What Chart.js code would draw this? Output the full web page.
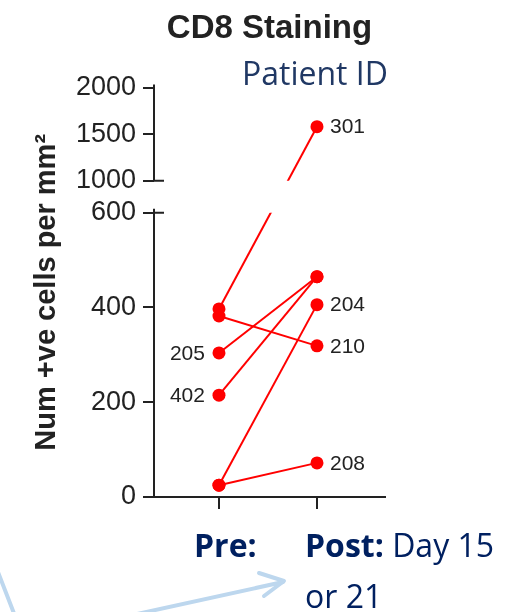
<!DOCTYPE html>
<html>
<head>
<meta charset="utf-8">
<title>CD8 Staining</title>
<script src="https://cdn.jsdelivr.net/npm/chart.js@4.4.1/dist/chart.umd.min.js"></script>
<style>
  html, body { margin: 0; padding: 0; background: #fff; }
  #wrap { position: relative; width: 518px; height: 612px; overflow: hidden; }
  #notes { position: absolute; left: 0; top: 0; }
</style>
</head>
<body>
<div id="wrap">
  <canvas id="myChart" width="518" height="612"></canvas>
  <svg id="notes" width="518" height="612" viewBox="0 0 518 612">
    <g stroke="#bdd7ee" stroke-width="4" stroke-linecap="round" stroke-linejoin="round" fill="none">
      <line x1="-2" y1="572" x2="15" y2="616"/>
      <line x1="128" y1="616" x2="283" y2="582"/>
      <polyline points="259,573 284,581 264,596"/>
    </g>
    <text x="242" y="85" font-family="'Open Sans', sans-serif" font-size="32" fill="#203864">Patient ID</text>
    <text x="194" y="557" font-family="'Open Sans', sans-serif" font-size="32" font-weight="700" fill="#002060">Pre:</text>
    <text x="305" y="557" font-family="'Open Sans', sans-serif" font-size="32" fill="#002060"><tspan font-weight="700">Post:</tspan> Day 15</text>
    <text x="305" y="608" font-family="'Open Sans', sans-serif" font-size="32" fill="#002060">or 21</text>
  </svg>
</div>
<script>
// data
const timepoints = ['Pre', 'Post'];
const patients = ['301', '210', '205', '402', '204', '208'];
const preValues = [397, 382, 304, 215, 25, 25];
const postValues = [1580, 319, 465, 465, 406, 72];
const labelEnd = ['Post', 'Post', 'Pre', 'Pre', 'Post', 'Post'];
const lowerTicks = [0, 200, 400, 600];
const upperTicks = [1000, 1500, 2000];

const breakLow = lowerTicks[lowerTicks.length - 1];
const breakHigh = upperTicks[0];
// share of the axis height taken by lower part, gap, upper part
const segmentWeights = [284, 32, 93];

Chart.defaults.font.family = '"Liberation Sans", Arial, sans-serif';
Chart.defaults.color = '#222';

// linear scale with a break between breakLow and breakHigh
class BrokenLinearScale extends Chart.LinearScale {
  static id = 'brokenLinear';
  static defaults = {};

  _stops() {
    const w = segmentWeights;
    const total = w[0] + w[1] + w[2];
    return {
      values: [this.min, breakLow, breakHigh, this.max],
      fracs: [0, w[0] / total, (w[0] + w[1]) / total, 1]
    };
  }

  getPixelForValue(value) {
    if (value === null || value === undefined || isNaN(value)) return NaN;
    const { values, fracs } = this._stops();
    let i = 0;
    while (i < 2 && value > values[i + 1]) i++;
    const t = (value - values[i]) / (values[i + 1] - values[i]);
    const f = fracs[i] + t * (fracs[i + 1] - fracs[i]);
    return this.bottom - f * (this.bottom - this.top);
  }

  getValueForPixel(pixel) {
    const { values, fracs } = this._stops();
    const f = (this.bottom - pixel) / (this.bottom - this.top);
    let i = 0;
    while (i < 2 && f > fracs[i + 1]) i++;
    const t = (f - fracs[i]) / (fracs[i + 1] - fracs[i]);
    return values[i] + t * (values[i + 1] - values[i]);
  }
}
Chart.register(BrokenLinearScale);

// blank the lines where they cross the axis break
const gapClip = {
  id: 'gapClip',
  beforeDatasetsDraw(chart) {
    const y = chart.scales.y;
    const ctx = chart.ctx;
    const top = y.getPixelForValue(breakHigh);
    const bottom = y.getPixelForValue(breakLow);
    ctx.save();
    ctx.beginPath();
    ctx.rect(0, 0, chart.width, top);
    ctx.rect(0, bottom, chart.width, chart.height - bottom);
    ctx.clip();
  },
  afterDatasetsDraw(chart) {
    chart.ctx.restore();
  }
};

// the two pieces of the y axis line, Prism style
const brokenAxis = {
  id: 'brokenAxis',
  afterDraw(chart) {
    const y = chart.scales.y;
    const ctx = chart.ctx;
    const x = chart.chartArea.left;
    const pHigh = y.getPixelForValue(breakHigh);
    const pLow = y.getPixelForValue(breakLow);
    ctx.save();
    ctx.strokeStyle = '#222';
    ctx.lineWidth = 2;
    ctx.beginPath();
    ctx.moveTo(x, y.top - 3);
    ctx.lineTo(x, pHigh + 1);
    ctx.moveTo(x, pLow - 4);
    ctx.lineTo(x, y.bottom + 1);
    ctx.moveTo(x - 1, pHigh);
    ctx.lineTo(x + 10, pHigh);
    ctx.moveTo(x - 1, pLow);
    ctx.lineTo(x + 10, pLow);
    ctx.stroke();
    ctx.restore();
  }
};

// patient ids next to one end of each line
const idLabels = {
  id: 'idLabels',
  afterDatasetsDraw(chart) {
    const ctx = chart.ctx;
    ctx.save();
    ctx.font = '21px "Liberation Sans", Arial, sans-serif';
    ctx.fillStyle = '#222';
    ctx.textBaseline = 'middle';
    chart.data.datasets.forEach((ds, i) => {
      const idx = timepoints.indexOf(ds.labelEnd);
      const pt = chart.getDatasetMeta(i).data[idx];
      if (!pt) return;
      if (idx === 0) {
        ctx.textAlign = 'right';
        ctx.fillText(ds.label, pt.x - 14, pt.y + 1);
      } else {
        ctx.textAlign = 'left';
        ctx.fillText(ds.label, pt.x + 13, pt.y + 1);
      }
    });
    ctx.restore();
  }
};

const red = '#ff0000';
const datasets = patients.map((id, i) => ({
  label: id,
  labelEnd: labelEnd[i],
  data: timepoints.map((t, j) => ({ x: j + 1, y: j === 0 ? preValues[i] : postValues[i] })),
  borderColor: red,
  backgroundColor: red,
  borderWidth: 2,
  pointRadius: 6.5,
  pointBorderWidth: 0,
  pointBackgroundColor: red,
  tension: 0
}));

const ctx = document.getElementById('myChart').getContext('2d');
new Chart(ctx, {
  type: 'line',
  data: { datasets: datasets },
  options: {
    responsive: false,
    animation: false,
    layout: { padding: { left: 26, right: 133, top: 0, bottom: 103 } },
    scales: {
      x: {
        type: 'linear',
        min: 0.337,
        max: 2.694,
        afterBuildTicks: (s) => { s.ticks = timepoints.map((t, j) => ({ value: j + 1 })); },
        ticks: { display: false },
        grid: { drawOnChartArea: false, tickLength: 12, lineWidth: 2, color: '#222' },
        border: { display: true, color: '#222', width: 2 }
      },
      y: {
        type: 'brokenLinear',
        min: lowerTicks[0],
        max: upperTicks[upperTicks.length - 1],
        afterBuildTicks: (s) => { s.ticks = lowerTicks.concat(upperTicks).map(v => ({ value: v })); },
        afterFit: (s) => { s.width = 128; },
        ticks: {
          autoSkip: false,
          padding: 7,
          color: '#222',
          font: { size: 27 },
          callback: (v) => String(v)
        },
        grid: { drawOnChartArea: false, tickLength: 11, lineWidth: 2, color: '#222' },
        border: { display: false },
        title: {
          display: true,
          text: 'Num +ve cells per mm²',
          color: '#222',
          font: { size: 29, weight: 'bold' },
          padding: { top: 4, bottom: 14 }
        }
      }
    },
    plugins: {
      legend: { display: false },
      tooltip: { enabled: false },
      title: {
        display: true,
        text: 'CD8 Staining',
        fullSize: false,
        color: '#222',
        font: { size: 33, weight: 'bold' },
        padding: { top: 9, bottom: 39 }
      }
    }
  },
  plugins: [gapClip, idLabels, brokenAxis]
});
</script>
</body>
</html>
